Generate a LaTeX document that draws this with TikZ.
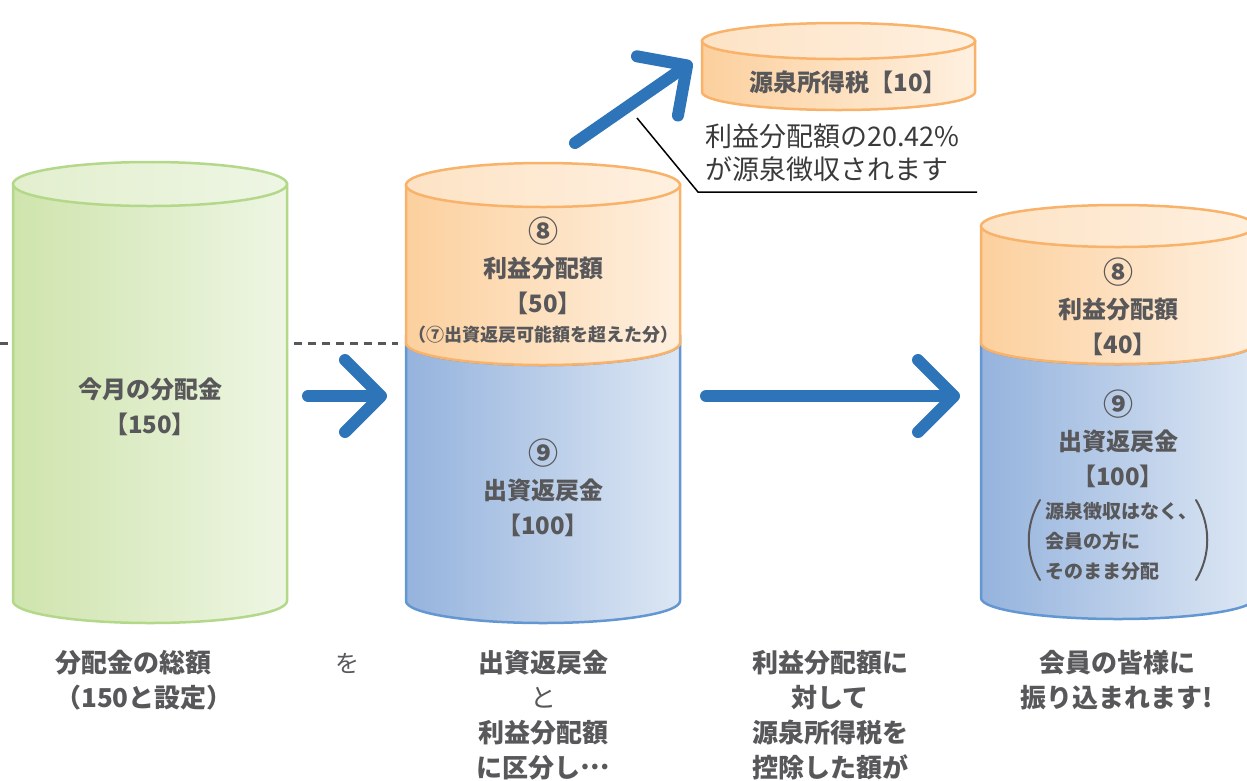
\documentclass[tikz,border=0pt]{standalone}
\usepackage{fontspec}
\newfontfamily\jp{Noto Sans CJK JP}
\usetikzlibrary{arrows.meta,positioning}
\definecolor{txtgray}{HTML}{58585A}
\definecolor{notegray}{HTML}{3A3A3A}
\definecolor{arrowblue}{HTML}{2E74B8}
\definecolor{greenedge}{HTML}{B3D88A}
\definecolor{greenL}{HTML}{CFE4AD}
\definecolor{greenR}{HTML}{EEF6E4}
\definecolor{orangeedge}{HTML}{F8B26A}
\definecolor{orangeL}{HTML}{FCD09E}
\definecolor{orangeR}{HTML}{FEF0E0}
\definecolor{blueedge}{HTML}{6397D2}
\definecolor{blueL}{HTML}{95B3DD}
\definecolor{blueR}{HTML}{DDE7F4}
\newcommand\circnum[1]{{\fontsize{30}{35}\selectfont #1}}
\tikzset{
  greenpart/.style={draw=greenedge, line width=2.5pt, left color=greenL, right color=greenR},
  greentop/.style={draw=greenedge, line width=2.5pt, left color=greenL!60!white, right color=greenR},
  orangepart/.style={draw=orangeedge, line width=2.5pt, left color=orangeL, right color=orangeR},
  orangetop/.style={draw=orangeedge, line width=2.5pt, left color=orangeL!60!white, right color=orangeR},
  bluepart/.style={draw=blueedge, line width=2.5pt, left color=blueL, right color=blueR},
  cyltext/.style={font=\jp\bfseries\fontsize{24}{35}\selectfont, text=txtgray, align=center, inner sep=0pt},
  smalltext/.style={font=\jp\bfseries\fontsize{18}{30}\selectfont, text=txtgray, align=center, inner sep=0pt},
  caption/.style={font=\jp\bfseries\fontsize{26}{35}\selectfont, text=txtgray, align=center, inner sep=0pt},
  bigarrow/.style={draw=arrowblue, line width=12pt, line cap=round,
    -{Straight Barb[round, length=36pt, width=72pt]}},
  guide/.style={draw=txtgray, line width=3pt, dash pattern=on 8pt off 6pt},
  leader/.style={draw=black, line width=1.5pt},
  parenline/.style={draw=txtgray, line width=2pt, line cap=round}
}
\begin{document}
\begin{tikzpicture}[x=1pt,y=-1pt]
  \useasboundingbox (0,0) rectangle (1247,780);
  \clip (0,0) rectangle (1247,780);

  % dashed guide behind the cylinders
  \coordinate (dashL) at (0,343);
  \coordinate (dashR) at (398,343);
  \draw[guide] (dashL) -- (dashR);

  % total
  \draw[greenpart] (13,184) -- (13,601) arc[start angle=180, end angle=0, x radius=137, y radius=22] -- (287,184) -- cycle;
  \draw[greentop] (150,184) ellipse[x radius=137, y radius=22];

  % split
  \draw[bluepart] (406,343) -- (406,601) arc[start angle=180, end angle=0, x radius=137, y radius=22]
    -- (680,343) arc[start angle=0, end angle=180, x radius=137, y radius=22] -- cycle;
  \draw[orangepart] (406,185) -- (406,343) arc[start angle=180, end angle=0, x radius=137, y radius=22] -- (680,185) -- cycle;
  \draw[orangetop] (543,185) ellipse[x radius=137, y radius=22];

  % paid
  \draw[bluepart] (981,343) -- (981,598) arc[start angle=180, end angle=0, x radius=137, y radius=21]
    -- (1255,343) arc[start angle=0, end angle=180, x radius=137, y radius=21] -- cycle;
  \draw[orangepart] (981,226) -- (981,343) arc[start angle=180, end angle=0, x radius=137, y radius=21] -- (1255,226) -- cycle;
  \draw[orangetop] (1118,226) ellipse[x radius=137, y radius=21];

  % withholding tax
  \draw[orangepart] (702,41) -- (702,92) arc[start angle=180, end angle=0, x radius=136.5, y radius=18] -- (975,41) -- cycle;
  \draw[orangetop] (838.5,41) ellipse[x radius=136.5, y radius=18];

  % texts on the cylinders
  \node[cyltext] (total) at (150,407) {今月の分配金\\【150】};
  \node[cyltext] (profit) at (543,266) {\circnum{⑧}\\利益分配額\\【50】};
  \node[smalltext] (excess) at (543,335) {（⑦出資返戻可能額を超えた分）};
  \node[cyltext] (refund) at (543,488) {\circnum{⑨}\\出資返戻金\\【100】};
  \node[cyltext] (profitnet) at (1118,307) {\circnum{⑧}\\利益分配額\\【40】};
  \node[cyltext] (refundnet) at (1118,439) {\circnum{⑨}\\出資返戻金\\【100】};
  \node[smalltext, align=left, anchor=west, font=\jp\bfseries\fontsize{19}{30}\selectfont] (direct) at (1045,541)
    {源泉徴収はなく、\\会員の方に\\そのまま分配};
  \draw[parenline] (1040,500) .. controls (1025,525) and (1025,555) .. (1040,580);
  \draw[parenline] (1196,500) .. controls (1211,525) and (1211,555) .. (1196,580);
  \node[cyltext, font=\jp\bfseries\fontsize{24}{30}\selectfont] (tax) at (848,82) {源泉所得税【10】};

  % note on the rate
  \node[font=\jp\fontsize{27}{33}\selectfont, text=notegray, align=left, anchor=west, inner sep=0pt] (rate) at (705,153)
    {利益分配額の20.42\%\\が源泉徴収されます};
  \coordinate (ldA) at (637,118);
  \coordinate (ldB) at (698,192);
  \coordinate (ldC) at (977,192);
  \draw[leader] (ldA) -- (ldB) -- (ldC);

  % arrows
  \coordinate (a1s) at (308,396);
  \coordinate (a1e) at (387,396);
  \coordinate (a2s) at (706,396);
  \coordinate (a2e) at (960,396);
  \coordinate (a3s) at (575,143);
  \coordinate (a3e) at (692,62);
  \draw[bigarrow] (a1s) -- (a1e);
  \draw[bigarrow] (a2s) -- (a2e);
  \draw[bigarrow] (a3s) -- (a3e);

  % captions
  \node[caption, align=left, anchor=west] (capSum) at (55,680) {分配金の総額\\（150と設定）};
  \node[caption, font=\jp\fontsize{24}{35}\selectfont] (capWo) at (347,663) {を};
  \node[caption] (capSplit) at (543,715) {出資返戻金\\{\mdseries と}\\利益分配額\\に区分し\raisebox{0.3em}{…}};
  \node[caption] (capTax) at (830,715) {利益分配額に\\対して\\源泉所得税を\\控除した額が};
  \node[caption] (capPay) at (1117,680) {会員の皆様に\\振り込まれます!};
\end{tikzpicture}
\end{document}
